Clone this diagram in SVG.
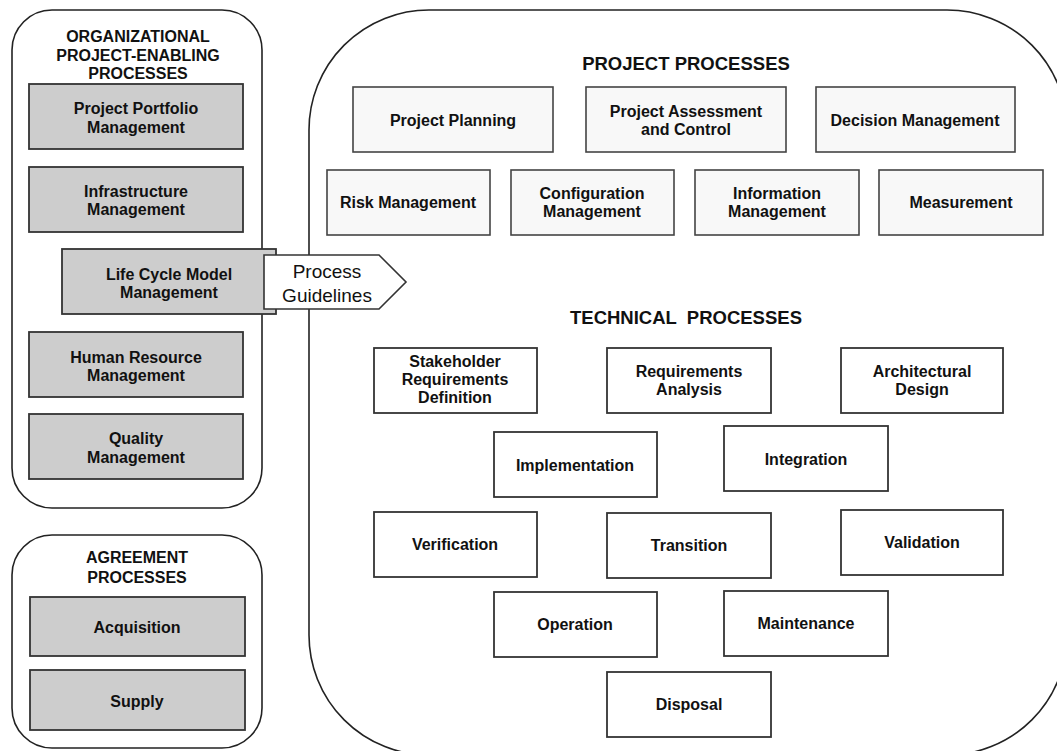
<svg xmlns="http://www.w3.org/2000/svg" width="1057" height="751" viewBox="0 0 1057 751">
<style>
.panel{fill:#fff;stroke:#222;stroke-width:1.6}
.gbox{fill:#cdcdcd;stroke:#333;stroke-width:1.8}
.wbox{fill:#fff;stroke:#333;stroke-width:1.8}
.pbox{fill:#f8f8f8;stroke:#444;stroke-width:1.6}
text{font-family:"Liberation Sans",Arial,sans-serif;fill:#111;text-anchor:middle}
.b{font-weight:bold;font-size:16px}
.h{font-weight:bold;font-size:16px}
.H{font-weight:bold;font-size:18.5px}
.r{font-size:19px}
</style>
<rect width="1057" height="751" fill="#fff"/>
<g id="project-panel">
<rect class="panel" x="309" y="10" width="758" height="745" rx="120"/>
<text class="H" x="686" y="70">PROJECT PROCESSES</text>
<text class="H" x="686" y="324" xml:space="preserve">TECHNICAL  PROCESSES</text>
</g>
<g id="org-panel">
<rect class="panel" x="12" y="10" width="250" height="498" rx="40"/>
<text class="h" x="138" y="42">ORGANIZATIONAL</text>
<text class="h" x="138" y="61">PROJECT-ENABLING</text>
<text class="h" x="138" y="79">PROCESSES</text>
</g>
<g id="agreement-panel">
<rect class="panel" x="12" y="535" width="250" height="213" rx="40"/>
<text class="h" x="137" y="563">AGREEMENT</text>
<text class="h" x="137" y="583">PROCESSES</text>
</g>
<g id="project-portfolio-management"><rect class="gbox" x="29" y="84" width="214" height="65"/><text class="b" x="136" y="114">Project Portfolio</text><text class="b" x="136" y="133">Management</text></g>
<g id="infrastructure-management"><rect class="gbox" x="29" y="167" width="214" height="65"/><text class="b" x="136" y="197">Infrastructure</text><text class="b" x="136" y="215">Management</text></g>
<g id="life-cycle-model-management"><rect class="gbox" x="62" y="249" width="214" height="65"/><text class="b" x="169" y="280">Life Cycle Model</text><text class="b" x="169" y="298">Management</text></g>
<g id="human-resource-management"><rect class="gbox" x="29" y="332" width="214" height="65"/><text class="b" x="136" y="363">Human Resource</text><text class="b" x="136" y="381">Management</text></g>
<g id="quality-management"><rect class="gbox" x="29" y="414" width="214" height="65"/><text class="b" x="136" y="444">Quality</text><text class="b" x="136" y="463">Management</text></g>
<g id="acquisition"><rect class="gbox" x="30" y="597" width="215" height="59"/><text class="b" x="137" y="633">Acquisition</text></g>
<g id="supply"><rect class="gbox" x="30" y="670" width="215" height="60"/><text class="b" x="137" y="707">Supply</text></g>
<g id="connectors">
<g id="process-guidelines"><polygon points="264,255 379,255 406,282 379,309 264,309" fill="#fff" stroke="#333" stroke-width="1.6"/><text class="r" x="327" y="278">Process</text><text class="r" x="327" y="302">Guidelines</text></g>
</g>
<g id="project-planning"><rect class="pbox" x="353" y="87" width="200" height="65"/><text class="b" x="453" y="126">Project Planning</text></g>
<g id="project-assessment-and-control"><rect class="pbox" x="586" y="87" width="200" height="65"/><text class="b" x="686" y="117">Project Assessment</text><text class="b" x="686" y="135">and Control</text></g>
<g id="decision-management"><rect class="pbox" x="816" y="87" width="199" height="65"/><text class="b" x="915" y="126">Decision Management</text></g>
<g id="risk-management"><rect class="pbox" x="327" y="170" width="163" height="65"/><text class="b" x="408" y="208">Risk Management</text></g>
<g id="configuration-management"><rect class="pbox" x="511" y="170" width="163" height="65"/><text class="b" x="592" y="199">Configuration</text><text class="b" x="592" y="217">Management</text></g>
<g id="information-management"><rect class="pbox" x="695" y="170" width="164" height="65"/><text class="b" x="777" y="199">Information</text><text class="b" x="777" y="217">Management</text></g>
<g id="measurement"><rect class="pbox" x="879" y="170" width="164" height="65"/><text class="b" x="961" y="208">Measurement</text></g>
<g id="stakeholder-requirements-definition"><rect class="wbox" x="374" y="348" width="163" height="65"/><text class="b" x="455" y="367">Stakeholder</text><text class="b" x="455" y="385">Requirements</text><text class="b" x="455" y="403">Definition</text></g>
<g id="requirements-analysis"><rect class="wbox" x="607" y="348" width="164" height="65"/><text class="b" x="689" y="377">Requirements</text><text class="b" x="689" y="395">Analysis</text></g>
<g id="architectural-design"><rect class="wbox" x="841" y="348" width="162" height="65"/><text class="b" x="922" y="377">Architectural</text><text class="b" x="922" y="395">Design</text></g>
<g id="implementation"><rect class="wbox" x="494" y="432" width="163" height="65"/><text class="b" x="575" y="471">Implementation</text></g>
<g id="integration"><rect class="wbox" x="724" y="426" width="164" height="65"/><text class="b" x="806" y="465">Integration</text></g>
<g id="verification"><rect class="wbox" x="374" y="512" width="163" height="65"/><text class="b" x="455" y="550">Verification</text></g>
<g id="transition"><rect class="wbox" x="607" y="513" width="164" height="65"/><text class="b" x="689" y="551">Transition</text></g>
<g id="validation"><rect class="wbox" x="841" y="510" width="162" height="65"/><text class="b" x="922" y="548">Validation</text></g>
<g id="operation"><rect class="wbox" x="494" y="592" width="163" height="65"/><text class="b" x="575" y="630">Operation</text></g>
<g id="maintenance"><rect class="wbox" x="724" y="591" width="164" height="65"/><text class="b" x="806" y="629">Maintenance</text></g>
<g id="disposal"><rect class="wbox" x="607" y="672" width="164" height="65"/><text class="b" x="689" y="710">Disposal</text></g>
</svg>
